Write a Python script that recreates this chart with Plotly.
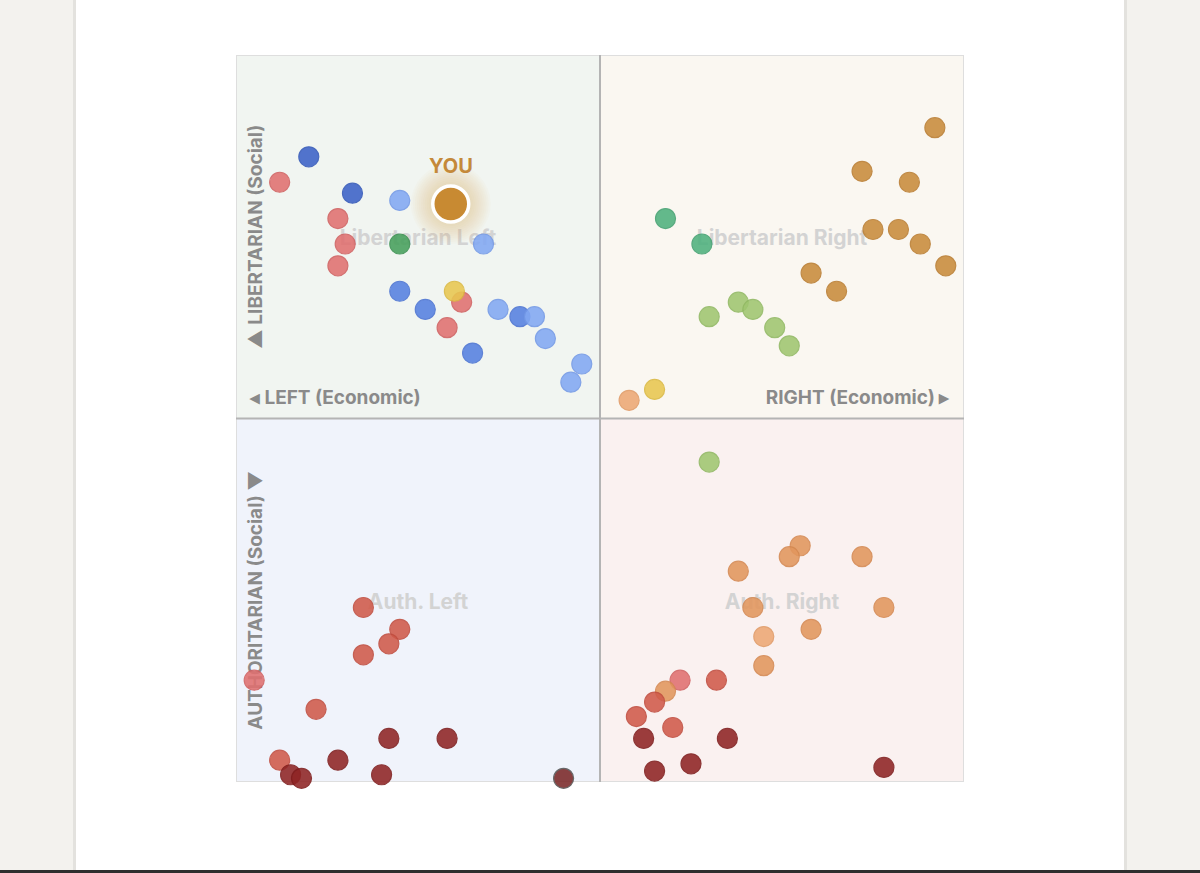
import plotly.graph_objects as go

# ---- data (economic x, social y; -10..10) ----
dark_blue_x = [-8.0, -6.8]
dark_blue_y = [7.2, 6.2]
mid_blue_x = [-5.5, -4.8, -2.2, -3.5]
mid_blue_y = [3.5, 3.0, 2.8, 1.8]
light_blue_x = [-5.5, -3.2, -2.8, -1.8, -1.5, -0.5, -0.8]
light_blue_y = [6.0, 4.8, 3.0, 2.8, 2.2, 1.5, 1.0]
pink_x = [-8.8, -7.2, -7.0, -7.2, -3.8, -4.2, -9.5, 2.2]
pink_y = [6.5, 5.5, 4.8, 4.2, 3.2, 2.5, -7.2, -7.2]
green_x = [-5.5]
green_y = [4.8]
yellow_x = [-4.0, 1.5]
yellow_y = [3.5, 0.8]
gold_x = [9.2, 7.2, 8.5, 7.5, 8.2, 8.8, 9.5, 5.8, 6.5]
gold_y = [8.0, 6.8, 6.5, 5.2, 5.2, 4.8, 4.2, 4.0, 3.5]
teal_x = [1.8, 2.8]
teal_y = [5.5, 4.8]
lime_x = [3.0, 3.8, 4.2, 4.8, 5.2, 3.0]
lime_y = [2.8, 3.2, 3.0, 2.5, 2.0, -1.2]
peach_x = [0.8, 4.5]
peach_y = [0.5, -6.0]
orange_x = [5.5, 5.2, 7.2, 3.8, 4.2, 7.8, 5.8, 4.5, 1.8]
orange_y = [-3.5, -3.8, -3.8, -4.2, -5.2, -5.2, -5.8, -6.8, -7.5]
red_x = [-6.5, -5.5, -5.8, -6.5, -7.8, -8.8, 3.2, 1.5, 1.0, 2.0]
red_y = [-5.2, -5.8, -6.2, -6.5, -8.0, -9.4, -7.2, -7.8, -8.2, -8.5]
dark_red_x = [-5.8, -4.2, -7.2, -8.5, -8.2, -6.0, 1.2, 3.5, 2.5, 1.5, 7.8]
dark_red_y = [-8.8, -8.8, -9.4, -9.8, -9.9, -9.8, -8.8, -8.8, -9.5, -9.7, -9.6]
darkest_x = [-1.0]
darkest_y = [-9.9]
you_x = [-4.1]
you_y = [5.9]

quadrant_names = ["Libertarian Left", "Libertarian Right", "Auth. Left", "Auth. Right"]
axis_labels = ["▲ LIBERTARIAN (Social)", "AUTHORITARIAN (Social) ▼",
               "◂ LEFT (Economic)", "RIGHT (Economic) ▸"]

groups = [
    (dark_blue_x, dark_blue_y, "#3c62c8", "#3257b8"),
    (mid_blue_x, mid_blue_y, "#5680e0", "#4a72d2"),
    (light_blue_x, light_blue_y, "#82a8f3", "#7298e6"),
    (pink_x, pink_y, "#e07070", "#d06060"),
    (green_x, green_y, "#47a05c", "#3a9050"),
    (yellow_x, yellow_y, "#e8c750", "#dab840"),
    (gold_x, gold_y, "#c98c3b", "#b97c30"),
    (teal_x, teal_y, "#4fb17e", "#42a070"),
    (lime_x, lime_y, "#9fc670", "#90b862"),
    (peach_x, peach_y, "#eda874", "#e09a66"),
    (orange_x, orange_y, "#e2965d", "#d48850"),
    (red_x, red_y, "#d05a4a", "#c04c3e"),
    (dark_red_x, dark_red_y, "#8f2424", "#7e1c1c"),
    (darkest_x, darkest_y, "#7a2828", "#555555"),
]

fig = go.Figure()

# soft glow around YOU
for s in range(80, 38, -4):
    fig.add_trace(go.Scatter(x=you_x, y=you_y, mode="markers", hoverinfo="skip",
                             marker=dict(size=s, color="rgba(215,175,90,0.035)", line=dict(width=0)),
                             cliponaxis=False, showlegend=False))

for gx, gy, col, lc in groups:
    fig.add_trace(go.Scatter(x=gx, y=gy, mode="markers",
                             marker=dict(size=20, color=col, opacity=0.88,
                                         line=dict(width=1.2, color=lc)),
                             cliponaxis=False, showlegend=False))

fig.add_trace(go.Scatter(x=you_x, y=you_y, mode="markers",
                         marker=dict(size=36, color="#c88a32", line=dict(width=3.5, color="white")),
                         cliponaxis=False, showlegend=False))

# ---- page / card shapes (paper coordinates) ----
W, H = 1200, 873
L, R, T, B = 236, 236, 55, 91
pw, ph = W - L - R, H - T - B

def px_x(p):
    return (p - L) / pw

def px_y(p):
    return (H - B - p) / ph

shapes = []
shapes.append(dict(type="rect", xref="paper", yref="paper", layer="below",
                   x0=px_x(74.5), x1=px_x(1125.5), y0=px_y(880), y1=px_y(-10),
                   fillcolor="white", line=dict(color="#e3e2de", width=3)))
shapes.append(dict(type="rect", xref="paper", yref="paper", layer="below",
                   x0=px_x(-5), x1=px_x(1205), y0=px_y(880), y1=px_y(870),
                   fillcolor="#2e2e2e", line=dict(width=0)))

quad_fill = ["#f1f5f1", "#faf7f1", "#f0f3fb", "#faf1f0"]
quad_box = [(-10, 0, 0, 10), (0, 10, 0, 10), (-10, 0, -10, 0), (0, 10, -10, 0)]
for name, fc, (x0, x1, y0, y1) in zip(quadrant_names, quad_fill, quad_box):
    shapes.append(dict(type="rect", xref="x", yref="y", layer="below",
                       x0=x0, x1=x1, y0=y0, y1=y1, fillcolor=fc, line=dict(width=0),
                       label=dict(text=f"<b>{name}</b>", textposition="middle center",
                                  font=dict(family="Inter", size=21, color="#d3d3d3"))))

# outer border and centre lines
shapes.append(dict(type="rect", xref="x", yref="y", layer="below", x0=-10, x1=10, y0=-10, y1=10,
                   fillcolor="rgba(0,0,0,0)", line=dict(color="#dedede", width=2)))
shapes.append(dict(type="line", xref="x", yref="y", layer="below", x0=0, x1=0, y0=-10, y1=10,
                   line=dict(color="#b4b4b4", width=2)))
shapes.append(dict(type="line", xref="x", yref="y", layer="below", x0=-10, x1=10, y0=0, y1=0,
                   line=dict(color="#b4b4b4", width=2)))

axfont = dict(family="Inter", size=19, color="#8a8a8a")
# vertical axis labels
shapes.append(dict(type="rect", xref="x", yref="y", layer="below", x0=-9.9, x1=-9.1, y0=0, y1=10,
                   fillcolor="rgba(0,0,0,0)", line=dict(width=0),
                   label=dict(text=f"<b>{axis_labels[0]}</b>", textangle=-90,
                              textposition="middle center", font=axfont)))
shapes.append(dict(type="rect", xref="x", yref="y", layer="below", x0=-9.9, x1=-9.1, y0=-10, y1=0,
                   fillcolor="rgba(0,0,0,0)", line=dict(width=0),
                   label=dict(text=f"<b>{axis_labels[1]}</b>", textangle=-90,
                              textposition="middle center", font=axfont)))
# horizontal axis labels
shapes.append(dict(type="rect", xref="x", yref="y", layer="below", x0=-9.7, x1=-4, y0=0.3, y1=0.9,
                   fillcolor="rgba(0,0,0,0)", line=dict(width=0),
                   label=dict(text=f"<b>{axis_labels[2]}</b>", textposition="middle left",
                              padding=0, font=axfont)))
shapes.append(dict(type="rect", xref="x", yref="y", layer="below", x0=4, x1=9.68, y0=0.3, y1=0.9,
                   fillcolor="rgba(0,0,0,0)", line=dict(width=0),
                   label=dict(text=f"<b>{axis_labels[3]}</b>", textposition="middle right",
                              padding=0, font=axfont)))

fig.update_layout(
    width=W, height=H,
    margin=dict(l=L, r=R, t=T, b=B, pad=0),
    paper_bgcolor="#f3f2ee",
    plot_bgcolor="rgba(0,0,0,0)",
    xaxis=dict(range=[-10, 10], visible=False, fixedrange=True),
    yaxis=dict(range=[-10, 10], visible=False, fixedrange=True),
    shapes=shapes,
    showlegend=False,
    annotations=[dict(x=you_x[0], y=you_y[0], xref="x", yref="y", text="<b>YOU</b>",
                      showarrow=False, yshift=38,
                      font=dict(family="Inter", size=20, color="#c4893a"))],
)

fig.write_html("out.html", config={"displayModeBar": False},
               post_script="document.body.style.margin='0';document.body.style.overflow='hidden';")
